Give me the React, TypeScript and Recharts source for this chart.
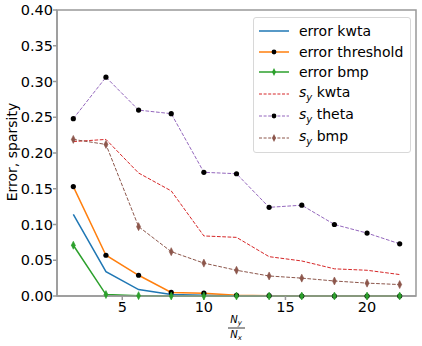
import React from 'react';
import { LineChart, Line, XAxis, YAxis, Legend, ReferenceArea } from 'recharts';

// x = Ny / Nx
const ratios = [2, 4, 6, 8, 10, 12, 14, 16, 18, 20, 22];
const errorKwta = [0.114, 0.034, 0.009, 0.002, 0.001, 0.0005, 0, 0, 0, 0, 0];
const errorThreshold = [0.153, 0.057, 0.029, 0.005, 0.004, 0.001, 0.0005, 0, 0, 0, 0];
const errorBmp = [0.071, 0.002, 0.0005, 0, 0, 0, 0, 0, 0, 0, 0];
const syKwta = [0.216, 0.219, 0.172, 0.147, 0.084, 0.082, 0.055, 0.049, 0.038, 0.036, 0.030];
const syTheta = [0.248, 0.306, 0.26, 0.255, 0.173, 0.171, 0.124, 0.127, 0.1, 0.088, 0.073];
const syBmp = [0.219, 0.212, 0.097, 0.062, 0.046, 0.036, 0.028, 0.025, 0.021, 0.018, 0.016];
const xTicks = [5, 10, 15, 20];
const yTicks = [0, 0.05, 0.1, 0.15, 0.2, 0.25, 0.3, 0.35, 0.4];

const data = ratios.map((x, i) => ({
  x,
  eKwta: errorKwta[i],
  eThr: errorThreshold[i],
  eBmp: errorBmp[i],
  sKwta: syKwta[i],
  sTheta: syTheta[i],
  sBmp: syBmp[i],
}));

const FONT = '"DejaVu Sans", sans-serif';
const SPINE = '#999';

const dotMarker = (props: any) => (
  <circle key={props.index} cx={props.cx} cy={props.cy} r={2.6} fill="#000" stroke="none" />
);

const diamondMarker = (color: string) => (props: any) => {
  const { cx, cy, index } = props;
  return (
    <path
      key={index}
      d={`M${cx},${cy - 4} L${cx + 2},${cy} L${cx},${cy + 4} L${cx - 2},${cy} Z`}
      fill={color}
      stroke={color}
      strokeWidth={0.6}
    />
  );
};

const legendItems = [
  { name: 'error kwta', color: '#1f77b4', dash: undefined, marker: null },
  { name: 'error threshold', color: '#ff7f0e', dash: undefined, marker: 'dot' },
  { name: 'error bmp', color: '#2ca02c', dash: undefined, marker: 'diamond' },
  { name: 'kwta', color: '#d62728', dash: '3 1.6', marker: null, sy: true },
  { name: 'theta', color: '#9467bd', dash: '3 1.6', marker: 'dot', sy: true },
  { name: 'bmp', color: '#8c564b', dash: '3 1.6', marker: 'diamond', sy: true },
];

function LegendBox() {
  return (
    <div
      style={{
        fontFamily: FONT,
        fontSize: 14,
        border: '1px solid #d8d8d8',
        borderRadius: 3,
        background: 'rgba(255,255,255,0.85)',
        padding: '3px 8px 3px 5px',
        width: 143,
      }}
    >
      {legendItems.map(it => (
        <div key={it.name} style={{ display: 'flex', alignItems: 'center', height: it.sy ? 22 : 20.5 }}>
          <svg width={30} height={10} style={{ marginRight: 10, flex: 'none' }}>
            <line x1={0} y1={5} x2={30} y2={5} stroke={it.color} strokeWidth={it.dash ? 1 : 1.5} strokeDasharray={it.dash} />
            {it.marker === 'dot' && <circle cx={15} cy={5} r={2.4} fill="#000" />}
            {it.marker === 'diamond' && <path d="M15,1 L17,5 L15,9 L13,5 Z" fill={it.color} />}
          </svg>
          <span style={{ whiteSpace: 'nowrap', color: '#000' }}>
            {it.sy ? (
              <>
                <i>s</i>
                <sub style={{ fontSize: 10, fontStyle: 'italic' }}>y</sub> {it.name}
              </>
            ) : (
              it.name
            )}
          </span>
        </div>
      ))}
    </div>
  );
}

const XLabel = () => (
  <g fontFamily={FONT} fontStyle="italic" fill="#000">
    <text x={236} y={323} fontSize={10} textAnchor="middle">
      N<tspan fontSize={7} dy={2}>y</tspan>
    </text>
    <line x1={228} x2={245} y1={328} y2={328} stroke="#000" strokeWidth={0.8} />
    <text x={236} y={338} fontSize={10} textAnchor="middle">
      N<tspan fontSize={7} dy={2}>x</tspan>
    </text>
  </g>
);

const YLabel = () => (
  <text
    x={12}
    y={152}
    transform="rotate(-90 12 152)"
    textAnchor="middle"
    dominantBaseline="central"
    fontFamily={FONT}
    fontSize={14}
    fill="#000"
  >
    Error, sparsity
  </text>
);

export default function App() {
  const tick = { fontFamily: FONT, fontSize: 14.5, fill: '#000' };
  return (
    <div style={{ position: 'absolute', left: 0, top: 0, width: 422, height: 346, background: '#fff' }}>
      <LineChart width={422} height={346} data={data} margin={{ top: 10, right: 6, left: 0, bottom: 0 }}>
        <XAxis
          dataKey="x"
          type="number"
          domain={[1, 23]}
          ticks={xTicks}
          allowDataOverflow
          height={50}
          tick={tick}
          tickSize={4}
          tickMargin={2}
          stroke={SPINE}
          strokeWidth={1.5}
          label={<XLabel />}
        />
        <YAxis
          type="number"
          domain={[0, 0.4]}
          ticks={yTicks}
          width={57}
          tick={tick}
          tickSize={4}
          tickMargin={0}
          tickFormatter={(v: number) => v.toFixed(2)}
          stroke={SPINE}
          strokeWidth={1.5}
          label={<YLabel />}
        />
        <ReferenceArea x1={1} x2={23} y1={0} y2={0.4} fill="none" stroke={SPINE} strokeWidth={1.5} ifOverflow="visible" />
        <Line dataKey="eKwta" stroke="#1f77b4" strokeWidth={1.5} dot={false} isAnimationActive={false} />
        <Line dataKey="eThr" stroke="#ff7f0e" strokeWidth={1.5} dot={dotMarker} isAnimationActive={false} />
        <Line dataKey="eBmp" stroke="#2ca02c" strokeWidth={1.5} dot={diamondMarker('#2ca02c')} isAnimationActive={false} />
        <Line dataKey="sKwta" stroke="#d62728" strokeWidth={1} strokeDasharray="3.7 1.6" dot={false} isAnimationActive={false} />
        <Line dataKey="sTheta" stroke="#9467bd" strokeWidth={1} strokeDasharray="3.7 1.6" dot={dotMarker} isAnimationActive={false} />
        <Line dataKey="sBmp" stroke="#8c564b" strokeWidth={1} strokeDasharray="3.7 1.6" dot={diamondMarker('#8c564b')} isAnimationActive={false} />
        <Legend
          layout="vertical"
          align="center"
          verticalAlign="middle"
          content={<LegendBox />}
          wrapperStyle={{ left: 253, top: 17, width: 'auto', height: 'auto' }}
        />
      </LineChart>
    </div>
  );
}
